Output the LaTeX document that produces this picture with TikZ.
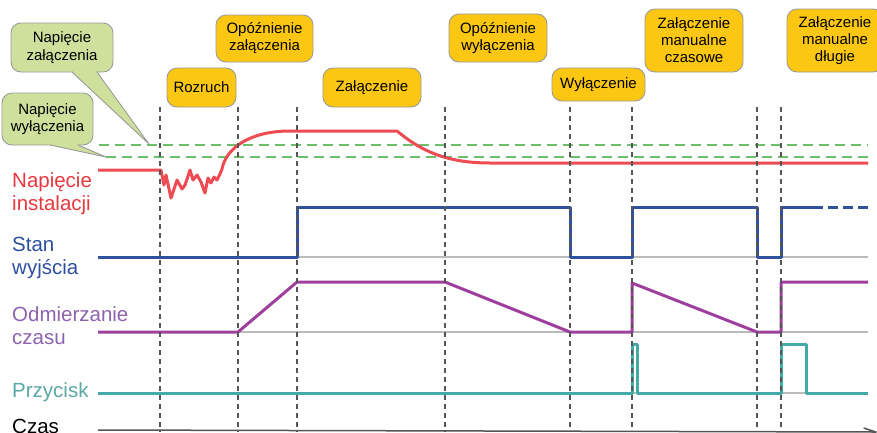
\documentclass[tikz,border=0pt]{standalone}
\usepackage{fontspec}
\setmainfont{Liberation Sans}
\usetikzlibrary{arrows.meta}
\definecolor{redL}{HTML}{EE4B52}
\definecolor{redT}{HTML}{E8383F}
\definecolor{blueL}{HTML}{3050A0}
\definecolor{blueT}{HTML}{2E4F9F}
\definecolor{purL}{HTML}{9E3F9E}
\definecolor{purT}{HTML}{8D62AE}
\definecolor{tealL}{HTML}{45AAA6}
\definecolor{tealT}{HTML}{5AA8A3}
\definecolor{greenD}{HTML}{6CBF6C}
\definecolor{calloutF}{HTML}{CFE09C}
\definecolor{boxF}{HTML}{FCC712}
\definecolor{boxB}{HTML}{9A9A9A}
\definecolor{axisC}{HTML}{555555}
\definecolor{baseC}{HTML}{BBBBBB}
\tikzset{
  phase/.style={draw=boxB, fill=boxF, line width=0.9pt, rounded corners=10pt, align=center,
    inner sep=0pt, font=\fontsize{15}{17}\selectfont},
  callbox/.style={draw=boxB, fill=calloutF, line width=0.9pt, rounded corners=10pt, align=center,
    inner sep=0pt, font=\fontsize{15}{17.5}\selectfont},
  siglabel/.style={anchor=west, align=left, inner sep=0pt, font=\fontsize{20.5}{23}\selectfont},
  sig/.style={line width=3pt, line join=round},
  baseline/.style={draw=baseC, line width=1.5pt},
  vdash/.style={draw=axisC, line width=1.3pt, dash pattern=on 5pt off 4pt},
  gdash/.style={draw=greenD, line width=1.5pt, dash pattern=on 10pt off 6pt},
}
\begin{document}
\begin{tikzpicture}[x=1pt,y=-1pt]
\useasboundingbox (0,0) rectangle (877,432);

% callouts
\node[callbox, minimum width=102pt, minimum height=49pt] (cz) at (62,47.5) {Napięcie\\załączenia};
\fill[calloutF] (72,72) -- (149,144) -- (97,72) -- cycle;
\fill[calloutF] (73,68) rectangle (96,72.5);
\draw[boxB, line width=0.9pt, line join=round] (72,72) -- (149,144) -- (97,72);
\coordinate (tipz) at (149,144);

\node[callbox, minimum width=91pt, minimum height=52pt] (cw) at (47.5,119) {Napięcie\\wyłączenia};
\fill[calloutF] (50,145) -- (106,157) -- (78,145) -- cycle;
\fill[calloutF] (51,141) rectangle (77,145.5);
\draw[boxB, line width=0.9pt, line join=round] (50,145) -- (106,157) -- (78,145);

% phase boxes
\node[phase, minimum width=69pt, minimum height=39pt] (rozruch) at (201.5,87.5) {Rozruch};
\node[phase, minimum width=97pt, minimum height=47pt] (opz) at (264.5,38.5) {Opóźnienie\\załączenia};
\node[phase, minimum width=98pt, minimum height=39pt] (zal) at (372,87.5) {Załączenie};
\node[phase, minimum width=98pt, minimum height=48pt] (opw) at (498,38) {Opóźnienie\\wyłączenia};
\node[phase, minimum width=93pt, minimum height=33pt] (wyl) at (598.5,84.5) {Wyłączenie};
\node[phase, minimum width=98pt, minimum height=63pt] (zmc) at (694,40.5) {Załączenie\\manualne\\czasowe};
\node[phase, minimum width=96pt, minimum height=63pt] (zmd) at (835,40.5) {Załączenie\\manualne\\długie};

% signal labels
\node[siglabel, text=redT] (lnap) at (12,194) {Napięcie\\instalacji};
\node[siglabel, text=blueT] (lstan) at (12,258) {Stan\\wyjścia};
\node[siglabel, text=purT] (lodm) at (12,326) {Odmierzanie\\czasu};
\node[siglabel, text=tealT] (lprz) at (12,392) {Przycisk};
\node[siglabel, anchor=base west] (lczas) at (12,433.5) {Czas};

% baselines
\draw[baseline] (98,257) -- (868,257);
\draw[baseline] (98,332) -- (868,332);
\draw[baseline] (98,393) -- (868,393);

% threshold lines
\draw[gdash] (99,145) -- (868,145);
\draw[gdash] (106,157) -- (868,157);

% red: installation voltage
\draw[sig, redL] (98,170) -- (161,170) -- (164,185) -- (166,175) -- (171,198) -- (177,180) -- (182,189)
  -- (185,185) -- (190,170) -- (193,180) -- (197,175) -- (201,182) -- (205,193) -- (208,178)
  -- (211,183) -- (214,177) -- (217,180) -- (220,174) -- (222,169)
  .. controls (226,148) and (250,131) .. (290,131) -- (397,131)
  .. controls (420,150) and (445,163) .. (490,163) -- (868,163);

% blue: output state
\draw[sig, blueL] (98,257) -- (297,257) -- (297,207) -- (570,207) -- (570,257) -- (632,257)
  -- (632,207) -- (757,207) -- (757,257) -- (781,257) -- (781,207) -- (813,207);
\draw[sig, blueL, dash pattern=on 10pt off 5pt] (813,207) -- (868,207);

% purple: timing
\draw[sig, purL] (98,332) -- (238,332) -- (297,282) -- (445,282) -- (570,332) -- (632,332)
  -- (632,283) -- (757,332) -- (781,332) -- (781,282) -- (868,282);

% teal: button
\draw[sig, tealL] (98,393) -- (632,393) -- (632,344) -- (637,344) -- (637,393) -- (781,393)
  -- (781,344) -- (806,344) -- (806,393) -- (868,393);

% vertical event lines
\foreach \x in {160,238,297,445,570,632,757,781}
  \draw[vdash] (\x,107) -- (\x,432);

% time axis
\coordinate (ax0) at (98,430);
\coordinate (ax1) at (878,432);
\draw[axisC, line width=1.5pt, -{Straight Barb[length=12pt,width=8pt]}] (ax0) -- (ax1);
\end{tikzpicture}
\end{document}
